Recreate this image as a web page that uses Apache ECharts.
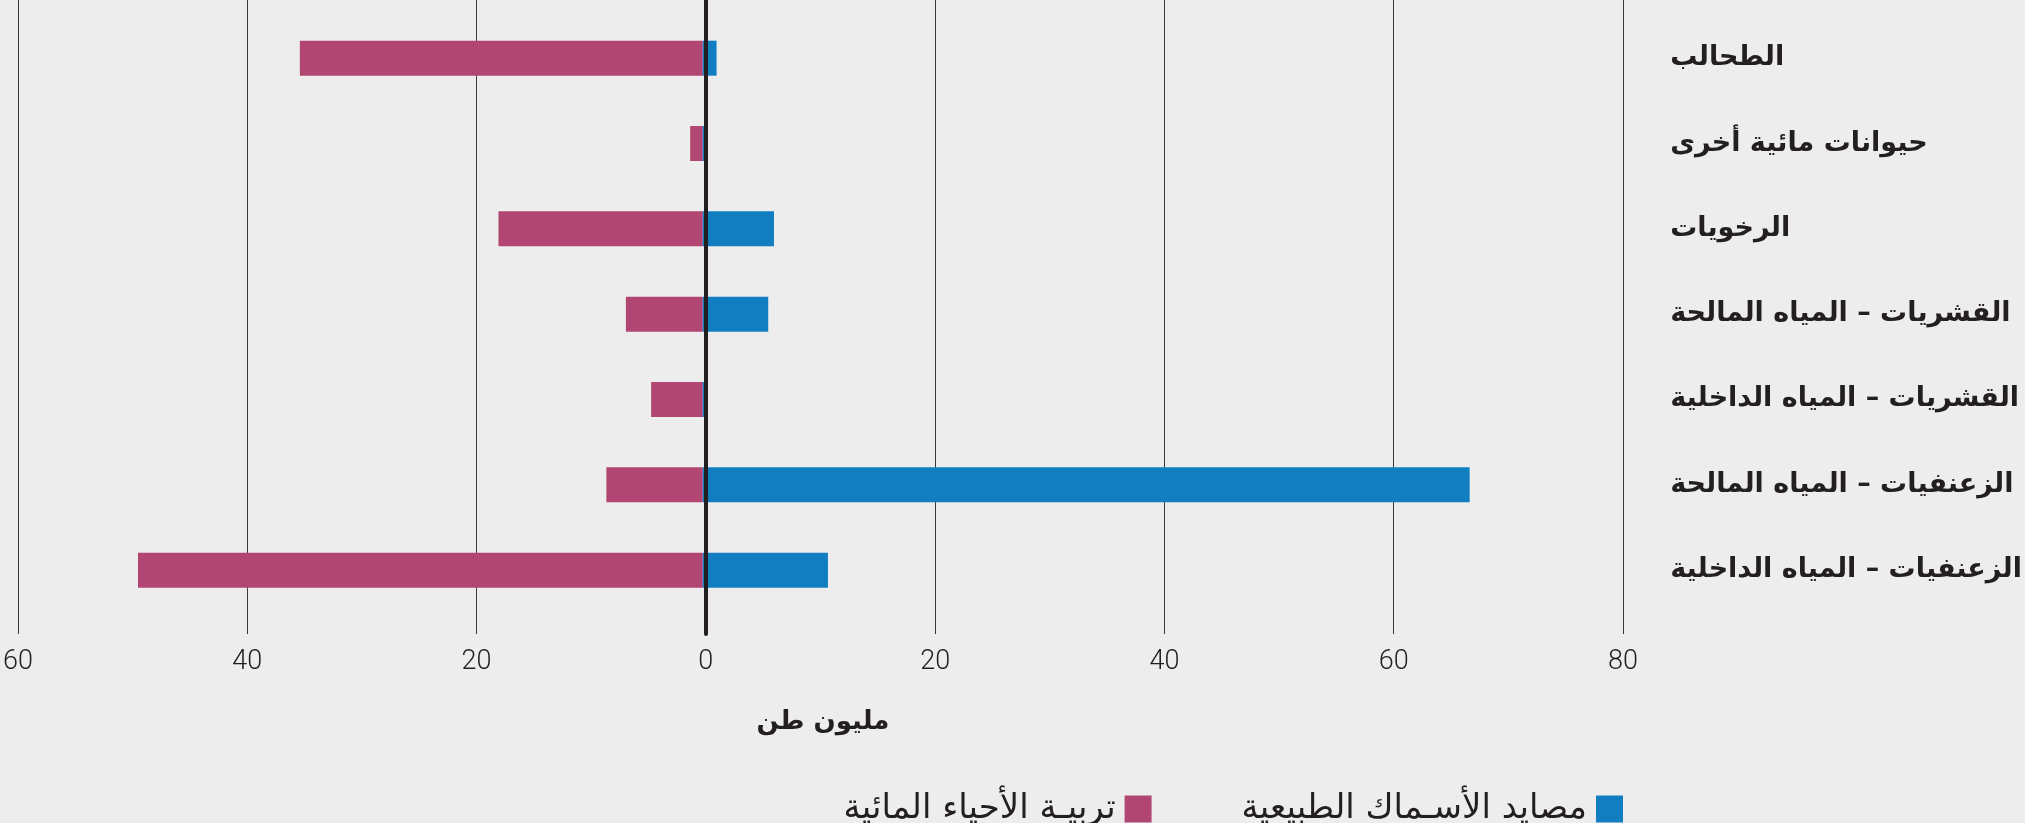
<!DOCTYPE html>
<html>
<head>
<meta charset="utf-8">
<script src="https://cdn.jsdelivr.net/npm/echarts@6/dist/echarts.min.js"></script>
<style>
html,body{margin:0;padding:0;background:#ededed;}
#chart{width:2025px;height:823px;}
</style>
</head>
<body>
<div id="chart"></div>
<script>
// Data (million tonnes)
const categories = [
  'الطحالب',
  'حيوانات مائية أخرى',
  'الرخويات',
  'القشريات – المياه المالحة',
  'القشريات – المياه الداخلية',
  'الزعنفيات – المياه المالحة',
  'الزعنفيات – المياه الداخلية'
];
const aquaculture = [35.1, 1.1, 17.8, 6.7, 4.5, 8.4, 49.2];   // drawn to the left
const capture     = [1.2, 0.4, 6.2, 5.7, 0.35, 66.8, 10.9];   // drawn to the right
const tickValues  = [-60, -40, -20, 0, 20, 40, 60, 80];
const seriesNames = ['تربيـة الأحياء المائية', 'مصايد الأسـماك الطبيعية'];
const axisTitle   = 'مليون طن';

const PINK = '#b24672';
const BLUE = '#127ec2';
const INK = '#231f20';

const chart = echarts.init(document.getElementById('chart'));
const option = {
  backgroundColor: '#ededed',
  animation: false,
  grid: [
    {left: 14, width: 1609, top: 0, height: 634, containLabel: false},
    {left: 14, width: 1609, top: 15.5, height: 597.3, containLabel: false}
  ],
  xAxis: [
    {
      gridIndex: 0, type: 'value',
      min: tickValues[0], max: tickValues[tickValues.length - 1], interval: 20,
      axisLine: {show: false}, axisTick: {show: false},
      splitLine: {show: true, lineStyle: {color: '#3a3a3a', width: 1}},
      axisLabel: {
        show: true, margin: 15, color: INK, fontSize: 27,
        fontFamily: 'Roboto', fontWeight: 300,
        formatter: v => String(Math.abs(v))
      }
    },
    {
      gridIndex: 1, type: 'value',
      min: tickValues[0], max: tickValues[tickValues.length - 1], interval: 20,
      show: false
    }
  ],
  yAxis: [
    {
      gridIndex: 0, type: 'category', data: [''], z: 10,
      axisLine: {show: true, onZero: true, lineStyle: {color: INK, width: 4}},
      axisTick: {show: false}, axisLabel: {show: false}, splitLine: {show: false}
    },
    {
      gridIndex: 1, type: 'category', data: categories, inverse: true,
      position: 'right',
      axisLine: {show: false}, axisTick: {show: false}, splitLine: {show: false},
      axisLabel: {
        margin: 49, align: 'left', color: INK, fontSize: 27,
        fontFamily: 'DejaVu Sans', fontWeight: 'bold'
      }
    }
  ],
  legend: {
    data: seriesNames,
    right: 397, top: 787,
    align: 'right',
    icon: 'rect', itemWidth: 27, itemHeight: 27, itemGap: 90,
    textStyle: {color: INK, fontSize: 34, fontFamily: 'DejaVu Sans', fontWeight: 'normal', padding: [0, 4, 0, 0]}
  },
  graphic: [{
    type: 'text', x: 823, y: 722,
    style: {
      text: axisTitle, fill: INK, font: 'bold 26px "DejaVu Sans"',
      align: 'center', verticalAlign: 'middle'
    }
  }],
  series: [
    {
      name: seriesNames[0], type: 'bar', xAxisIndex: 1, yAxisIndex: 1,
      stack: 'total', barWidth: 35,
      itemStyle: {color: PINK},
      data: aquaculture.map(v => -v)
    },
    {
      name: seriesNames[1], type: 'bar', xAxisIndex: 1, yAxisIndex: 1,
      stack: 'total', barWidth: 35,
      itemStyle: {color: BLUE},
      data: capture
    }
  ]
};
chart.setOption(option);
</script>
</body>
</html>
